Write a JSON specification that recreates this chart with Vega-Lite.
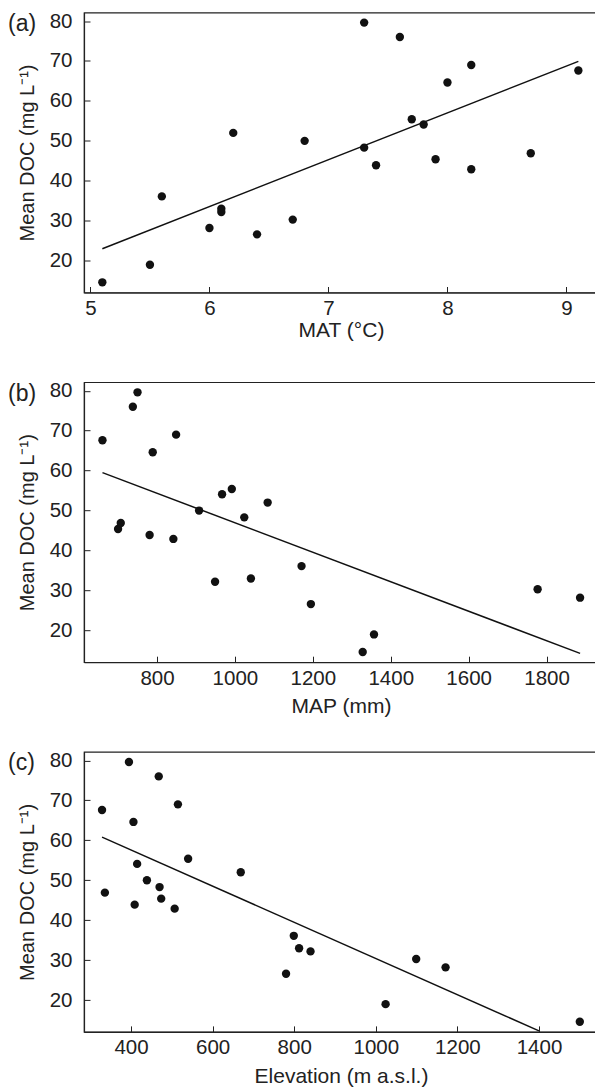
{
  "$schema": "https://vega.github.io/schema/vega-lite/v6.json",
  "padding": {"left": 7, "top": 9.5, "right": 0, "bottom": 5},
  "bounds": "flush",
  "spacing": 89.7,
  "config": {
    "font": "Liberation Sans",
    "view": {"stroke": "#222", "strokeWidth": 1.2},
    "axis": {"domainColor": "#222", "domainWidth": 1.2, "tickColor": "#222", "tickSize": -6, "tickWidth": 1, "labelFontSize": 20.5, "labelColor": "#222", "labelFlush": false, "titleFontSize": 21, "titleFontWeight": "normal", "titleColor": "#222", "grid": false},
    "axisX": {"labelPadding": 12},
    "axisY": {"labelPadding": 18, "titlePadding": 12, "titleFontSize": 20},
    "title": {"anchor": "start", "frame": "group", "fontSize": 23, "fontWeight": "normal", "color": "#222"}
  },
  "datasets": {
    "pa": [
      {"mat": 5.1, "doc": 14.6}, {"mat": 5.5, "doc": 19.0}, {"mat": 5.6, "doc": 36.1}, {"mat": 6.0, "doc": 28.2},
      {"mat": 6.1, "doc": 33.0}, {"mat": 6.1, "doc": 32.2}, {"mat": 6.2, "doc": 52.0}, {"mat": 6.4, "doc": 26.6},
      {"mat": 6.7, "doc": 30.3}, {"mat": 6.8, "doc": 50.0}, {"mat": 7.3, "doc": 79.6}, {"mat": 7.3, "doc": 48.3},
      {"mat": 7.4, "doc": 43.9}, {"mat": 7.6, "doc": 76.0}, {"mat": 7.7, "doc": 55.4}, {"mat": 7.8, "doc": 54.1},
      {"mat": 7.9, "doc": 45.4}, {"mat": 8.0, "doc": 64.6}, {"mat": 8.2, "doc": 69.0}, {"mat": 8.2, "doc": 42.9},
      {"mat": 8.7, "doc": 46.9}, {"mat": 9.1, "doc": 67.6}
    ],
    "la": [{"mat": 5.1, "doc": 23.0}, {"mat": 9.1, "doc": 69.9}],
    "pb": [
      {"map": 660, "doc": 67.6}, {"map": 700, "doc": 45.4}, {"map": 707, "doc": 46.9}, {"map": 738, "doc": 76.0},
      {"map": 750, "doc": 79.6}, {"map": 781, "doc": 43.9}, {"map": 789, "doc": 64.6}, {"map": 842, "doc": 42.9},
      {"map": 849, "doc": 69.0}, {"map": 908, "doc": 50.0}, {"map": 949, "doc": 32.2}, {"map": 967, "doc": 54.1},
      {"map": 992, "doc": 55.4}, {"map": 1024, "doc": 48.3}, {"map": 1041, "doc": 33.0}, {"map": 1084, "doc": 52.0},
      {"map": 1171, "doc": 36.1}, {"map": 1195, "doc": 26.6}, {"map": 1328, "doc": 14.6}, {"map": 1357, "doc": 19.0},
      {"map": 1777, "doc": 30.3}, {"map": 1886, "doc": 28.2}
    ],
    "lb": [{"map": 660, "doc": 59.5}, {"map": 1886, "doc": 14.25}],
    "pc": [
      {"elevation": 329, "doc": 67.6}, {"elevation": 336, "doc": 46.9}, {"elevation": 395, "doc": 79.6}, {"elevation": 406, "doc": 64.6},
      {"elevation": 409, "doc": 43.9}, {"elevation": 415, "doc": 54.1}, {"elevation": 439, "doc": 50.0}, {"elevation": 468, "doc": 76.0},
      {"elevation": 470, "doc": 48.3}, {"elevation": 474, "doc": 45.4}, {"elevation": 507, "doc": 42.9}, {"elevation": 515, "doc": 69.0},
      {"elevation": 540, "doc": 55.4}, {"elevation": 669, "doc": 52.0}, {"elevation": 780, "doc": 26.6}, {"elevation": 799, "doc": 36.1},
      {"elevation": 812, "doc": 33.0}, {"elevation": 840, "doc": 32.2}, {"elevation": 1024, "doc": 19.0}, {"elevation": 1099, "doc": 30.3},
      {"elevation": 1171, "doc": 28.2}, {"elevation": 1500, "doc": 14.6}
    ],
    "lc": [{"elevation": 329, "doc": 60.8}, {"elevation": 1400, "doc": 12.3}]
  },
  "vconcat": [
    {
      "width": 514, "height": 280,
      "title": {"text": "(a)", "dx": -76, "offset": -25},
      "layer": [
        {
          "data": {"name": "pa"},
          "mark": {"type": "circle", "size": 70, "opacity": 1, "color": "#111"},
          "encoding": {
            "x": {"field": "mat", "type": "quantitative", "scale": {"domain": [4.946, 9.265], "nice": false, "zero": false}, "axis": {"values": [5, 6, 7, 8, 9], "format": "d", "title": "MAT (°C)", "titlePadding": 0}},
            "y": {"field": "doc", "type": "quantitative", "scale": {"domain": [12.05, 82.13], "nice": false, "zero": false}, "axis": {"values": [20, 30, 40, 50, 60, 70, 80], "title": "Mean DOC (mg L⁻¹)"}}
          }
        },
        {
          "data": {"name": "la"},
          "mark": {"type": "line", "color": "#111", "strokeWidth": 1.5},
          "encoding": {
            "x": {"field": "mat", "type": "quantitative"},
            "y": {"field": "doc", "type": "quantitative"}
          }
        }
      ]
    },
    {
      "width": 514, "height": 280,
      "title": {"text": "(b)", "dx": -76, "offset": -25},
      "layer": [
        {
          "data": {"name": "pb"},
          "mark": {"type": "circle", "size": 70, "opacity": 1, "color": "#111"},
          "encoding": {
            "x": {"field": "map", "type": "quantitative", "scale": {"domain": [612.6, 1932], "nice": false, "zero": false}, "axis": {"values": [800, 1000, 1200, 1400, 1600, 1800], "format": "d", "title": "MAP (mm)", "titlePadding": 7}},
            "y": {"field": "doc", "type": "quantitative", "scale": {"domain": [12.05, 82.13], "nice": false, "zero": false}, "axis": {"values": [20, 30, 40, 50, 60, 70, 80], "title": "Mean DOC (mg L⁻¹)"}}
          }
        },
        {
          "data": {"name": "lb"},
          "mark": {"type": "line", "color": "#111", "strokeWidth": 1.5},
          "encoding": {
            "x": {"field": "map", "type": "quantitative"},
            "y": {"field": "doc", "type": "quantitative"}
          }
        }
      ]
    },
    {
      "width": 514, "height": 280,
      "title": {"text": "(c)", "dx": -76, "offset": -25},
      "layer": [
        {
          "data": {"name": "pc"},
          "mark": {"type": "circle", "size": 70, "opacity": 1, "color": "#111"},
          "encoding": {
            "x": {"field": "elevation", "type": "quantitative", "scale": {"domain": [284.8, 1544.6], "nice": false, "zero": false}, "axis": {"values": [400, 600, 800, 1000, 1200, 1400], "format": "d", "title": "Elevation (m a.s.l.)", "titlePadding": 7}},
            "y": {"field": "doc", "type": "quantitative", "scale": {"domain": [12.05, 82.13], "nice": false, "zero": false}, "axis": {"values": [20, 30, 40, 50, 60, 70, 80], "title": "Mean DOC (mg L⁻¹)"}}
          }
        },
        {
          "data": {"name": "lc"},
          "mark": {"type": "line", "color": "#111", "strokeWidth": 1.5},
          "encoding": {
            "x": {"field": "elevation", "type": "quantitative"},
            "y": {"field": "doc", "type": "quantitative"}
          }
        }
      ]
    }
  ]
}
